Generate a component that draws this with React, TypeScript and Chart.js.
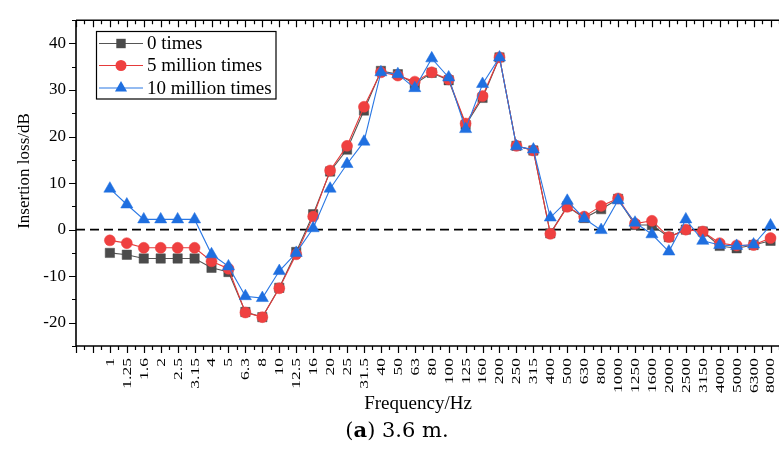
import React, { useEffect, useRef } from 'react';
import { Chart, registerables } from 'chart.js';

Chart.register(...registerables);

// One-third-octave band centre frequencies (Hz)
const frequencyLabels = [
  '1', '1.25', '1.6', '2', '2.5', '3.15', '4', '5', '6.3', '8',
  '10', '12.5', '16', '20', '25', '31.5', '40', '50', '63', '80',
  '100', '125', '160', '200', '250', '315', '400', '500', '630', '800',
  '1000', '1250', '1600', '2000', '2500', '3150', '4000', '5000', '6300', '8000',
];

// Insertion loss (dB) after each number of load cycles
const loss0Times = [
  -5.0, -5.4, -6.2, -6.2, -6.2, -6.2, -8.2, -9.1, -17.7, -18.8,
  -12.5, -4.8, 3.3, 12.5, 17.2, 25.6, 34.1, 33.4, 31.3, 33.7,
  32.1, 22.5, 28.3, 37.0, 18.0, 17.0, -0.8, 5.0, 2.5, 4.4,
  6.6, 1.0, 1.0, -1.6, 0.0, -0.4, -3.5, -4.0, -3.3, -2.4,
];
const loss5Million = [
  -2.3, -2.9, -3.9, -3.9, -3.9, -3.9, -6.8, -8.4, -17.8, -18.8,
  -12.6, -5.3, 2.8, 12.7, 18.0, 26.4, 33.8, 33.1, 31.8, 33.8,
  32.3, 22.8, 28.7, 37.0, 18.0, 17.0, -0.9, 4.9, 2.8, 5.1,
  6.7, 1.3, 1.9, -1.6, 0.0, -0.4, -2.9, -3.4, -3.3, -1.8,
];
const loss10Million = [
  8.8, 5.4, 2.2, 2.2, 2.2, 2.2, -5.3, -7.9, -14.3, -14.7,
  -8.9, -5.0, 0.3, 8.8, 14.1, 18.9, 33.8, 33.4, 30.4, 36.8,
  32.7, 21.6, 31.3, 37.0, 17.9, 17.2, 2.6, 6.2, 2.4, -0.1,
  6.3, 1.5, -1.0, -4.7, 2.2, -2.4, -3.3, -3.5, -3.2, 0.9,
];

const seriesNames = ['0 times', '5 million times', '10 million times'];
const yTickValues = [-20, -10, 0, 10, 20, 30, 40];

const SERIF = '"Liberation Serif", "Times New Roman", serif';

const GRAY = '#4b4b4b';
const RED = '#ef4040';
const BLUE = '#1f6fe0';

const toPoints = (values: number[]) => values.map((v, i) => ({ x: i, y: v }));

function drawMarker(ctx: CanvasRenderingContext2D, style: string, x: number, y: number, color: string) {
  ctx.fillStyle = color;
  ctx.beginPath();
  if (style === 'rect') {
    ctx.rect(x - 4.7, y - 4.7, 9.4, 9.4);
  } else if (style === 'circle') {
    ctx.arc(x, y, 5.5, 0, Math.PI * 2);
  } else {
    const r = 7;
    ctx.moveTo(x, y - r);
    ctx.lineTo(x + r * Math.sin((2 * Math.PI) / 3), y + r * 0.5);
    ctx.lineTo(x - r * Math.sin((2 * Math.PI) / 3), y + r * 0.5);
    ctx.closePath();
  }
  ctx.fill();
}

const framePlugin = {
  id: 'frameAndText',
  beforeDatasetsDraw(chart: any) {
    const { ctx, chartArea: a, scales } = chart;
    const y0 = scales.y.getPixelForValue(0);
    ctx.save();
    ctx.strokeStyle = '#000';
    ctx.lineWidth = 1.8;
    ctx.setLineDash([9, 5]);
    ctx.beginPath();
    ctx.moveTo(a.left, y0);
    ctx.lineTo(a.right, y0);
    ctx.stroke();
    ctx.restore();
  },
  afterDraw(chart: any) {
    const { ctx, chartArea: a, scales } = chart;
    const xs = scales.x;
    const ys = scales.y;
    ctx.save();

    // axis frame (left, top, bottom)
    ctx.strokeStyle = '#000';
    ctx.lineWidth = 1.6;
    ctx.beginPath();
    ctx.moveTo(a.left, a.top);
    ctx.lineTo(a.right, a.top);
    ctx.moveTo(a.left, a.top);
    ctx.lineTo(a.left, a.bottom);
    ctx.moveTo(a.left, a.bottom);
    ctx.lineTo(a.right, a.bottom);
    ctx.stroke();

    // tick marks: x every half band, y every 5 dB
    ctx.lineWidth = 1.2;
    ctx.beginPath();
    for (let v = xs.min; v <= xs.max + 1e-6; v += 0.5) {
      const px = Math.round(xs.getPixelForValue(v)) + 0.5;
      const len = Number.isInteger(v) ? 7 : 4;
      ctx.moveTo(px, a.bottom);
      ctx.lineTo(px, a.bottom + len);
      ctx.moveTo(px, a.top);
      ctx.lineTo(px, a.top + len);
    }
    for (let v = ys.min; v <= ys.max + 1e-6; v += 5) {
      const py = Math.round(ys.getPixelForValue(v)) + 0.5;
      const len = v % 10 === 0 ? 7 : 4;
      ctx.moveTo(a.left, py);
      ctx.lineTo(a.left - len, py);
    }
    ctx.stroke();

    // x tick labels, vertical and reading upwards
    ctx.fillStyle = '#000';
    ctx.font = `13px ${SERIF}`;
    ctx.textAlign = 'right';
    ctx.textBaseline = 'middle';
    frequencyLabels.forEach((label, i) => {
      const px = xs.getPixelForValue(i);
      ctx.save();
      ctx.translate(px + 0.5, a.bottom + 12);
      ctx.rotate(-Math.PI / 2);
      ctx.scale(1.35, 1);
      ctx.fillText(label, 0, 0);
      ctx.restore();
    });

    // axis titles
    ctx.textAlign = 'center';
    ctx.font = `19px ${SERIF}`;
    ctx.fillText('Frequency/Hz', 418, 404);
    ctx.save();
    ctx.translate(25, 171);
    ctx.rotate(-Math.PI / 2);
    ctx.font = `17px ${SERIF}`;
    ctx.fillText('Insertion loss/dB', 0, 0);
    ctx.restore();

    // caption
    const capFont = '"DejaVu Serif", serif';
    const capSize = 21;
    ctx.textAlign = 'left';
    const p1 = '(';
    const p2 = 'a';
    const p3 = ') 3.6 m.';
    ctx.font = `${capSize}px ${capFont}`;
    const w1 = ctx.measureText(p1).width;
    const w3 = ctx.measureText(p3).width;
    ctx.font = `bold ${capSize}px ${capFont}`;
    const w2 = ctx.measureText(p2).width;
    let cx = 397 - (w1 + w2 + w3) / 2;
    const cy = 432;
    ctx.font = `${capSize}px ${capFont}`;
    ctx.fillText(p1, cx, cy);
    cx += w1;
    ctx.font = `bold ${capSize}px ${capFont}`;
    ctx.fillText(p2, cx, cy);
    cx += w2;
    ctx.font = `${capSize}px ${capFont}`;
    ctx.fillText(p3, cx, cy);

    // legend box
    const box = { x: 96.5, y: 31.5, w: 179.5, h: 67.5 };
    ctx.fillStyle = '#fff';
    ctx.fillRect(box.x, box.y, box.w, box.h);
    ctx.strokeStyle = '#000';
    ctx.lineWidth = 1.2;
    ctx.strokeRect(box.x, box.y, box.w, box.h);
    const rowY = [43.5, 65.5, 88];
    chart.data.datasets.forEach((ds: any, i: number) => {
      const ry = rowY[i];
      ctx.strokeStyle = ds.borderColor;
      ctx.lineWidth = 1.2;
      ctx.beginPath();
      ctx.moveTo(99, ry);
      ctx.lineTo(143, ry);
      ctx.stroke();
      drawMarker(ctx, ds.pointStyle, 121, ry, ds.pointBackgroundColor);
      ctx.fillStyle = '#000';
      ctx.font = `19px ${SERIF}`;
      ctx.textAlign = 'left';
      ctx.textBaseline = 'middle';
      ctx.fillText(ds.label, 147, ry + 1);
    });

    ctx.restore();
  },
};

export default function App() {
  const canvasRef = useRef<HTMLCanvasElement>(null);

  useEffect(() => {
    document.body.style.margin = '0';
    const canvas = canvasRef.current;
    if (!canvas) return;
    const chart = new Chart(canvas, {
      type: 'line',
      data: {
        datasets: [
          {
            label: seriesNames[0],
            data: toPoints(loss0Times),
            borderColor: '#555555',
            backgroundColor: GRAY,
            pointBackgroundColor: GRAY,
            pointBorderColor: GRAY,
            pointStyle: 'rect',
            pointRadius: 6.6,
            pointBorderWidth: 0.5,
            borderWidth: 1.1,
            order: 3,
          },
          {
            label: seriesNames[1],
            data: toPoints(loss5Million),
            borderColor: '#e53a3a',
            backgroundColor: RED,
            pointBackgroundColor: RED,
            pointBorderColor: RED,
            pointStyle: 'circle',
            pointRadius: 5.5,
            pointBorderWidth: 0.5,
            borderWidth: 1.1,
            order: 2,
          },
          {
            label: seriesNames[2],
            data: toPoints(loss10Million),
            borderColor: '#2b78e4',
            backgroundColor: BLUE,
            pointBackgroundColor: BLUE,
            pointBorderColor: BLUE,
            pointStyle: 'triangle',
            pointRadius: 7,
            pointBorderWidth: 0.5,
            borderWidth: 1.1,
            order: 1,
          },
        ],
      },
      options: {
        responsive: false,
        animation: false,
        events: [],
        layout: { autoPadding: false, padding: { top: 16, left: 0, right: 0, bottom: 0 } },
        plugins: {
          legend: { display: false },
          tooltip: { enabled: false },
        },
        scales: {
          x: {
            type: 'linear',
            min: -2,
            max: 39.5,
            grid: { display: false, drawTicks: false },
            border: { display: false },
            ticks: { display: false },
            afterFit: (scale: any) => {
              scale.height = 111;
            },
          },
          y: {
            type: 'linear',
            min: -25,
            max: 45,
            grid: { display: false, drawTicks: false },
            border: { display: false },
            afterBuildTicks: (scale: any) => {
              scale.ticks = yTickValues.map((v) => ({ value: v }));
            },
            ticks: {
              color: '#000',
              padding: 10,
              font: { family: SERIF, size: 17 },
            },
            afterFit: (scale: any) => {
              scale.width = 76;
            },
          },
        },
      },
      plugins: [framePlugin],
    });
    return () => chart.destroy();
  }, []);

  return (
    <div style={{ width: 779, height: 457, background: '#fff' }}>
      <canvas ref={canvasRef} width={779} height={457} style={{ display: 'block' }} />
    </div>
  );
}
